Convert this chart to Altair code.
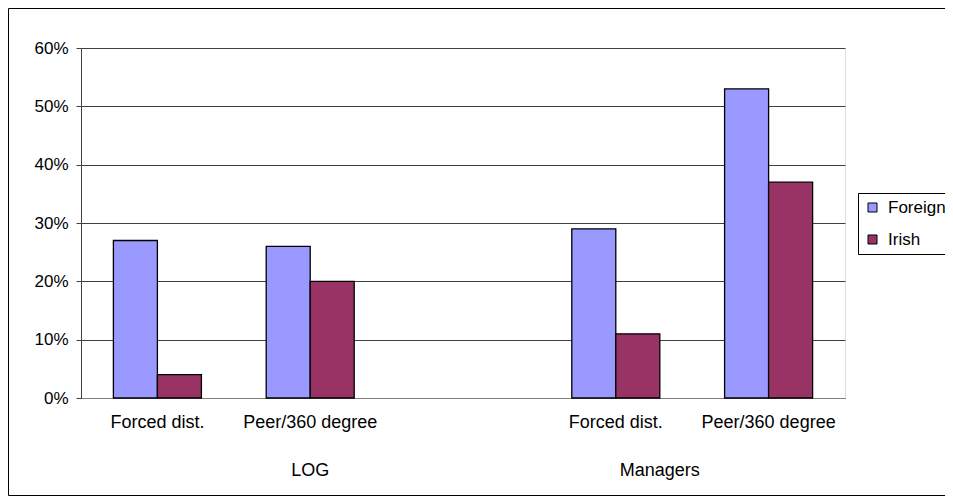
import altair as alt
import pandas as pd

# ---- data ----
slot_keys = ["s1", "s2", "s3", "s4", "s5"]
slot_labels = ["Forced dist.", "Peer/360 degree", "", "Forced dist.", "Peer/360 degree"]
bar_slots = ["s1", "s1", "s2", "s2", "s4", "s4", "s5", "s5"]
bar_series = ["Foreign", "Irish", "Foreign", "Irish", "Foreign", "Irish", "Foreign", "Irish"]
bar_values = [0.27, 0.04, 0.26, 0.20, 0.29, 0.11, 0.53, 0.37]
series_names = ["Foreign", "Irish"]
series_colors = ["#9999FF", "#993366"]
y_ticks = [0, 0.1, 0.2, 0.3, 0.4, 0.5, 0.6]

bars_df = pd.DataFrame({"slot": bar_slots, "series": bar_series, "value": bar_values})

FONT = "Liberation Sans"

label_expr = " : ".join(
    f"datum.value == '{k}' ? '{l}'" for k, l in zip(slot_keys, slot_labels)
) + " : ''"

x_scale = alt.Scale(domain=slot_keys, paddingInner=0.424, paddingOuter=0.212)

frame = alt.Chart(pd.DataFrame({"a": [0]})).mark_rect(
    fill="transparent", stroke="black", strokeWidth=1
).encode(
    x=alt.value(-72.5), x2=alt.value(950), y=alt.value(-39.5), y2=alt.value(447.5)
)

bars = alt.Chart(bars_df).mark_bar(stroke="black", strokeWidth=1.3).encode(
    x=alt.X(
        "slot:N",
        scale=x_scale,
        sort=slot_keys,
        axis=alt.Axis(
            title=None,
            labelExpr=label_expr,
            labelAngle=0,
            ticks=False,
            labelPadding=15,
            labelFont=FONT,
            labelFontSize=18,
            labelColor="black",
            domainColor="#808080",
            grid=False,
        ),
    ),
    xOffset=alt.XOffset(
        "series:N", sort=series_names, scale=alt.Scale(paddingInner=0, paddingOuter=0)
    ),
    y=alt.Y(
        "value:Q",
        scale=alt.Scale(domain=[0, 0.6], nice=False),
        axis=alt.Axis(
            title=None,
            values=y_ticks,
            format=".0%",
            labelFont=FONT,
            labelFontSize=17,
            labelColor="black",
            labelPadding=8,
            tickSize=5,
            tickColor="#404040",
            domainColor="#404040",
            gridColor="#404040",
            gridWidth=1,
        ),
    ),
    color=alt.Color(
        "series:N",
        sort=series_names,
        scale=alt.Scale(domain=series_names, range=series_colors),
        legend=alt.Legend(
            title=None,
            orient="none",
            legendX=777,
            legendY=145,
            strokeColor="black",
            padding=6,
            rowPadding=14,
            symbolType="square",
            symbolSize=81,
            symbolStrokeColor="black",
            symbolStrokeWidth=1,
            labelFont=FONT,
            labelFontSize=17,
            labelColor="black",
            labelOffset=7,
        ),
    ),
)

grp1 = alt.Chart(pd.DataFrame({"slot": ["s2"], "g": ["LOG"]})).mark_text(
    font=FONT, fontSize=18, color="black", baseline="middle", align="center"
).encode(
    x=alt.X("slot:N", bandPosition=0.5),
    y=alt.value(423),
    text="g:N",
)

grp2 = alt.Chart(pd.DataFrame({"slot": ["s4"], "g": ["Managers"]})).mark_text(
    font=FONT, fontSize=18, color="black", baseline="middle", align="center"
).encode(
    x=alt.X("slot:N", bandPosition=1.0),
    y=alt.value(423),
    text="g:N",
)

chart = alt.layer(frame, bars, grp1, grp2).properties(
    width=764,
    height=350,
    autosize=alt.AutoSizeParams(type="none"),
    padding={"left": 73, "top": 40, "right": 100, "bottom": 100},
).configure_view(
    fill="#C0C0C0", stroke="#808080", strokeWidth=1
).configure(background="white")

chart.save("out.html", embed_options={"renderer": "svg", "actions": False})
